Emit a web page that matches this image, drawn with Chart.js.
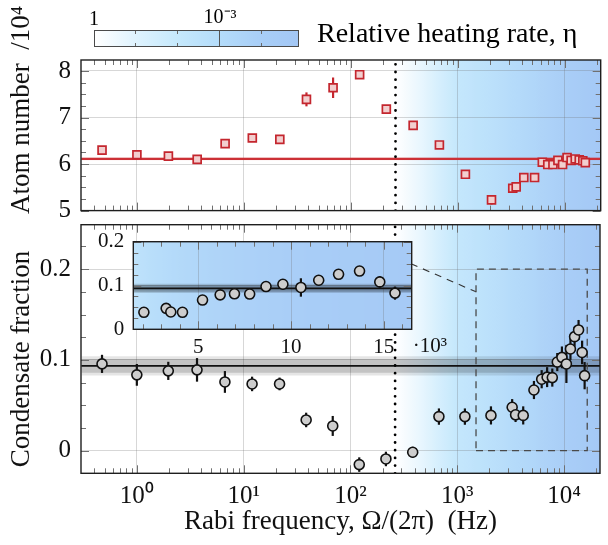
<!DOCTYPE html>
<html>
<head>
<meta charset="utf-8">
<title>Atom number and condensate fraction vs Rabi frequency</title>
<script src="https://cdn.jsdelivr.net/npm/chart.js@4.4.1/dist/chart.umd.min.js"></script>
<style>
  body { margin: 0; background: #fff; font-family: "Liberation Serif", serif; }
  #wrap { position: relative; width: 608px; height: 545px; overflow: hidden; }
  #wrap canvas { position: absolute; left: 0; top: 0; }
  #cbar { position: absolute; left: 94px; top: 30px; width: 205px; height: 17px; box-sizing: border-box;
          border: 1px solid #4a4a4a;
          background: linear-gradient(to right, #ffffff 0%, #dff3fe 20%, #c6e9fc 40%, #b4dcfa 61%, #a9cff7 80%, #a3c7f5 100%); }
  .tk { position: absolute; width: 1px; background: #6a6a6a; }
  .lbl { position: absolute; font-size: 20px; line-height: 1; transform: translateX(-50%); white-space: nowrap; }
  #cbTitle { position: absolute; left: 317px; top: 19px; font-size: 28px; line-height: 1; white-space: nowrap; }
</style>
</head>
<body>
<div id="wrap">
  <canvas id="atomChart" width="608" height="545"></canvas>
  <canvas id="fracChart" width="608" height="545"></canvas>
  <canvas id="insetChart" width="608" height="545"></canvas>
  <div id="cbar">
    <div class="tk" style="left:40px;top:0;height:3px"></div>
    <div class="tk" style="left:40px;bottom:0;height:3px"></div>
    <div class="tk" style="left:82px;top:0;height:3px"></div>
    <div class="tk" style="left:82px;bottom:0;height:3px"></div>
    <div class="tk" style="left:124px;top:0;height:15px;background:#555"></div>
    <div class="tk" style="left:166px;top:0;height:3px"></div>
    <div class="tk" style="left:166px;bottom:0;height:3px"></div>
  </div>
  <div class="lbl" style="left:94px;top:8px">1</div>
  <div class="lbl" style="left:220px;top:6px">10⁻³</div>
  <div id="cbTitle">Relative heating rate, η</div>
</div>

<script>
// ---- data ----
const freqHz = [0.472, 1.0, 1.97, 3.66, 6.68, 12.0, 21.7, 38.5, 68.3, 121, 215, 383, 674, 1180,
  2070, 3270, 3520, 4150, 5230, 6180, 6950, 7770, 8650, 9560, 10530, 11490, 12560, 13690, 14780, 15600];
const atomNumber = [6.30, 6.20, 6.17, 6.10, 6.44, 6.56, 6.53, 7.39, 7.64, 7.92, 7.18, 6.83, 6.41, 5.78,
  5.23, 5.48, 5.51, 5.71, 5.71, 6.04, 5.99, 5.99, 6.08, 5.99, 6.14, 6.08, 6.11, 6.09, 6.07, 6.03];
const atomErr = [0.04, 0.04, 0.04, 0.04, 0.04, 0.04, 0.04, 0.15, 0.22, 0.04, 0.08, 0.04, 0.04, 0.05,
  0.10, 0.09, 0.05, 0.04, 0.04, 0.04, 0.04, 0.04, 0.04, 0.04, 0.04, 0.04, 0.04, 0.04, 0.04, 0.05];
const condFrac = [0.0956, 0.0835, 0.0879, 0.0890, 0.0757, 0.0735, 0.0735, 0.0338, 0.0272, -0.0154, -0.0092, -0.0018, 0.0375, 0.0375,
  0.0388, 0.0478, 0.0395, 0.0388, 0.0668, 0.0787, 0.0810, 0.0805, 0.0976, 0.1028, 0.0955, 0.1120, 0.1256, 0.1330, 0.1082, 0.0826];
const condErr = [0.010, 0.012, 0.010, 0.013, 0.012, 0.008, 0.007, 0.008, 0.011, 0.008, 0.008, 0.006, 0.009, 0.009,
  0.010, 0.009, 0.008, 0.010, 0.010, 0.010, 0.011, 0.010, 0.010, 0.012, 0.021, 0.012, 0.011, 0.011, 0.013, 0.015];

const meanAtom = 6.11, atomBand = 0.03;
const meanFrac = 0.0934, fracBandOuter = 0.0105, fracBandInner = 0.0075;
const cutoffHz = 262;

const xRange = [0.302, 21730];
const atomRange = [5, 8.236];
const fracRange = [-0.025, 0.249];
const insetKHz = [1.5, 16.5];
const insetFrac = [0, 0.2];
const insetTickKHz = [5, 10, 15];
const connectorHz = [369, 1500];
const connectorFrac = [0.206, 0.175];

// heating-rate colour map (log10 of frequency -> colour)
const heatLogF = [2.42, 2.6, 2.8, 3.0, 3.5, 4.0, 4.4];
const heatColor = ['#ffffff', '#eef8fe', '#d8f0fd', '#c4e7fc', '#b6dcfa', '#a9cef7', '#a3c7f5'];

const FONT = '"Liberation Serif", serif';
const red = '#c4262e';
const gridCol = 'rgba(110,110,110,0.28)';
const sup = { '0': '⁰', '1': '¹', '2': '²', '3': '³', '4': '⁴', '-': '⁻' };

// ---- helpers ----
const pts = (xs, ys) => xs.map((x, i) => ({ x, y: ys[i] }));
const hline = (xr, y) => [{ x: xr[0], y }, { x: xr[1], y }];
const vline = (x, yr) => [{ x, y: yr[0] }, { x, y: yr[1] }];
const isDecade = v => { const e = Math.log10(v); return Math.abs(e - Math.round(e)) < 1e-6; };

function hexRgb(h) { return [1, 3, 5].map(i => parseInt(h.substr(i, 2), 16)); }
const heatRgb = heatColor.map(hexRgb);
function heatColour(f) {
  const l = Math.log10(f);
  if (l <= heatLogF[0]) return heatColor[0];
  for (let i = 1; i < heatLogF.length; i++) {
    if (l <= heatLogF[i]) {
      const t = (l - heatLogF[i - 1]) / (heatLogF[i] - heatLogF[i - 1]);
      const c = heatRgb[i - 1].map((a, k) => Math.round(a + (heatRgb[i][k] - a) * t));
      return `rgb(${c.join(',')})`;
    }
  }
  return heatColor[heatColor.length - 1];
}

function logTicks(r) {
  const out = [];
  for (let d = -1; d <= 5; d++) for (let m = 1; m < 10; m++) {
    const v = m * Math.pow(10, d);
    if (v >= r[0] && v <= r[1]) out.push({ v, len: m === 1 ? 8 : 5 });
  }
  return out;
}
function linTicks(r, major, minor) {
  const out = [];
  for (let k = Math.ceil(r[0] / minor - 1e-9); k * minor <= r[1] + 1e-9; k++) {
    const v = k * minor, q = v / major;
    out.push({ v, len: Math.abs(q - Math.round(q)) < 1e-6 ? 8 : 5 });
  }
  return out;
}

// ---- plugins ----
function makeHeatBg(toHz) {
  return {
    id: 'heatBg',
    beforeDraw(chart) {
      const { ctx, chartArea: a, scales: { x } } = chart;
      const g = ctx.createLinearGradient(a.left, 0, a.right, 0);
      for (let i = 0; i <= 120; i++) {
        g.addColorStop(i / 120, heatColour(toHz(x.getValueForPixel(a.left + a.width * i / 120))));
      }
      ctx.save();
      ctx.fillStyle = g;
      ctx.fillRect(a.left, a.top, a.width, a.height);
      ctx.restore();
    }
  };
}

const errorBars = {
  id: 'errorBars',
  beforeDatasetDraw(chart, args) {
    const ds = chart.data.datasets[args.index];
    if (!ds.errors) return;
    const { ctx, scales: { x, y } } = chart;
    ctx.save();
    ctx.strokeStyle = ds.errorColor;
    ctx.lineWidth = ds.errorWidth;
    ds.data.forEach((p, i) => {
      const px = x.getPixelForValue(p.x);
      ctx.beginPath();
      ctx.moveTo(px, y.getPixelForValue(p.y - ds.errors[i]));
      ctx.lineTo(px, y.getPixelForValue(p.y + ds.errors[i]));
      ctx.stroke();
    });
    ctx.restore();
  }
};

function makeFrame(xt, yt) {
  return {
    id: 'frame',
    afterDraw(chart) {
      const { ctx, chartArea: a, scales: { x, y } } = chart;
      const seg = (x1, y1, x2, y2) => { ctx.beginPath(); ctx.moveTo(x1, y1); ctx.lineTo(x2, y2); ctx.stroke(); };
      ctx.save();
      ctx.strokeStyle = '#707070';
      ctx.lineWidth = 1;
      xt.forEach(t => {
        const p = Math.round(x.getPixelForValue(t.v)) + 0.5;
        seg(p, a.top, p, a.top + t.len);
        seg(p, a.bottom, p, a.bottom - t.len);
      });
      yt.forEach(t => {
        const p = Math.round(y.getPixelForValue(t.v)) + 0.5;
        seg(a.left, p, a.left + t.len, p);
        seg(a.right, p, a.right - t.len, p);
      });
      ctx.strokeStyle = '#1e1e1e';
      ctx.lineWidth = 1.4;
      ctx.strokeRect(a.left, a.top, a.width, a.height);
      ctx.restore();
    }
  };
}

function makeText(items) {
  return {
    id: 'extraText',
    afterDraw(chart) {
      const { ctx } = chart;
      items.forEach(t => {
        ctx.save();
        ctx.font = t.font;
        ctx.fillStyle = '#111';
        ctx.textAlign = t.align || 'center';
        ctx.textBaseline = 'middle';
        const px = typeof t.x === 'function' ? t.x(chart) : t.x;
        const py = typeof t.y === 'function' ? t.y(chart) : t.y;
        ctx.translate(px, py);
        if (t.rotate) ctx.rotate(-Math.PI / 2);
        ctx.fillText(t.text, 0, 0);
        ctx.restore();
      });
    }
  };
}

function baseOptions(pad) {
  return {
    responsive: false,
    animation: false,
    events: [],
    layout: { padding: pad },
    plugins: { legend: { display: false }, tooltip: { enabled: false } }
  };
}

function logXAxis(showLabels, height) {
  return {
    type: 'logarithmic', min: xRange[0], max: xRange[1],
    afterFit: s => { s.height = height; },
    border: { display: false },
    grid: { drawTicks: false, color: c => (c.tick && isDecade(c.tick.value)) ? gridCol : 'rgba(0,0,0,0)' },
    ticks: {
      display: showLabels, autoSkip: false, maxRotation: 0, padding: 8, color: '#111',
      font: { family: FONT, size: 25 },
      callback: v => isDecade(v) ? '10' + String(Math.round(Math.log10(v))).split('').map(c => sup[c]).join('') : ''
    }
  };
}

function linYAxis(r, step, width, fontSize, pad) {
  return {
    type: 'linear', min: r[0], max: r[1],
    afterFit: s => { s.width = width; },
    border: { display: false },
    grid: { drawTicks: false, color: gridCol },
    ticks: {
      stepSize: step, includeBounds: false, padding: pad, color: '#111',
      font: { family: FONT, size: fontSize },
      callback: v => String(+v.toFixed(2))
    }
  };
}

// ---- top panel: atom number ----
new Chart(document.getElementById('atomChart'), {
  type: 'scatter',
  data: {
    datasets: [
      { data: pts(freqHz, atomNumber), errors: atomErr, errorColor: red, errorWidth: 2.2,
        pointStyle: 'rect', pointRadius: 5.6, backgroundColor: '#f2cfcf', borderColor: red, borderWidth: 1.7 },
      { type: 'line', data: vline(cutoffHz, atomRange), borderColor: '#000', borderWidth: 2.8,
        borderDash: [0, 7.7], borderCapStyle: 'round', pointRadius: 0 },
      { type: 'line', data: hline(xRange, meanAtom), borderColor: '#cc3036', borderWidth: 2.2, pointRadius: 0 },
      { type: 'line', data: hline(xRange, meanAtom + atomBand), borderWidth: 0, pointRadius: 0,
        fill: 4, backgroundColor: 'rgba(210,60,60,0.16)' },
      { type: 'line', data: hline(xRange, meanAtom - atomBand), borderWidth: 0, pointRadius: 0 }
    ]
  },
  options: Object.assign(baseOptions({ left: 0, right: 1, top: 60, bottom: 334.4 }), {
    scales: { x: logXAxis(false, 0), y: linYAxis(atomRange, 1, 81, 25, 10) }
  }),
  plugins: [makeHeatBg(v => v), errorBars, makeFrame(logTicks(xRange), linTicks(atomRange, 1, 0.25)),
    makeText([{ text: 'Atom number  /10⁴', x: 22, y: 110, rotate: true, font: '27px ' + FONT }])]
});

// ---- bottom panel: condensate fraction ----
const zoomBox = [
  { x: insetKHz[0] * 1000, y: insetFrac[0] }, { x: insetKHz[1] * 1000, y: insetFrac[0] },
  { x: insetKHz[1] * 1000, y: insetFrac[1] }, { x: insetKHz[0] * 1000, y: insetFrac[1] },
  { x: insetKHz[0] * 1000, y: insetFrac[0] }
];

const fracX = logXAxis(true, 71.7);
fracX.title = { display: true, text: 'Rabi frequency, Ω/(2π)  (Hz)', color: '#111',
  font: { family: FONT, size: 27 }, padding: { top: 0, bottom: 7 } };

new Chart(document.getElementById('fracChart'), {
  type: 'scatter',
  data: {
    datasets: [
      { data: pts(freqHz, condFrac), errors: condErr, errorColor: '#111', errorWidth: 2.2,
        pointRadius: 5, backgroundColor: '#cdcdcd', borderColor: '#111', borderWidth: 1.6 },
      { type: 'line', data: zoomBox, borderColor: '#4a4a4a', borderWidth: 1.3, borderDash: [7, 5], pointRadius: 0 },
      { type: 'line', data: pts(connectorHz, connectorFrac), borderColor: '#333', borderWidth: 1.1,
        borderDash: [7, 6], pointRadius: 0 },
      { type: 'line', data: vline(cutoffHz, fracRange), borderColor: '#000', borderWidth: 2.8,
        borderDash: [0, 7.7], borderCapStyle: 'round', pointRadius: 0 },
      { type: 'line', data: hline(xRange, meanFrac), borderColor: '#111', borderWidth: 1.8, pointRadius: 0 },
      { type: 'line', data: hline(xRange, meanFrac + fracBandInner), borderWidth: 0, pointRadius: 0,
        fill: 6, backgroundColor: 'rgba(0,0,0,0.15)' },
      { type: 'line', data: hline(xRange, meanFrac - fracBandInner), borderWidth: 0, pointRadius: 0 },
      { type: 'line', data: hline(xRange, meanFrac + fracBandOuter), borderWidth: 0, pointRadius: 0,
        fill: 8, backgroundColor: 'rgba(0,0,0,0.1)' },
      { type: 'line', data: hline(xRange, meanFrac - fracBandOuter), borderWidth: 0, pointRadius: 0 }
    ]
  },
  options: Object.assign(baseOptions({ left: 0, right: 1, top: 224.7, bottom: 0 }), {
    scales: { x: fracX, y: linYAxis(fracRange, 0.1, 81, 25, 10) }
  }),
  plugins: [makeHeatBg(v => v), errorBars, makeFrame(logTicks(xRange), linTicks(fracRange, 0.1, 0.025)),
    makeText([{ text: 'Condensate fraction', x: 22, y: 359, rotate: true, font: '27px ' + FONT }])]
});

// ---- inset: linear zoom of the high-frequency points (kHz) ----
const insetIdx = freqHz.map((f, i) => i).filter(i => freqHz[i] >= insetKHz[0] * 1000);
const insetX = insetIdx.map(i => freqHz[i] / 1000);
const insetY = insetIdx.map(i => condFrac[i]);
const insetErr = insetIdx.map(i => condErr[i]);

new Chart(document.getElementById('insetChart'), {
  type: 'scatter',
  data: {
    datasets: [
      { data: pts(insetX, insetY), errors: insetErr, errorColor: '#111', errorWidth: 2.2,
        pointRadius: 5, backgroundColor: '#cdcdcd', borderColor: '#111', borderWidth: 1.6 },
      { type: 'line', data: hline(insetKHz, meanFrac), borderColor: '#111', borderWidth: 1.8, pointRadius: 0 },
      { type: 'line', data: hline(insetKHz, meanFrac + fracBandInner), borderWidth: 0, pointRadius: 0,
        fill: 3, backgroundColor: 'rgba(0,0,0,0.22)' },
      { type: 'line', data: hline(insetKHz, meanFrac - fracBandInner), borderWidth: 0, pointRadius: 0 },
      { type: 'line', data: hline(insetKHz, meanFrac + fracBandOuter), borderWidth: 0, pointRadius: 0,
        fill: 5, backgroundColor: 'rgba(0,0,0,0.14)' },
      { type: 'line', data: hline(insetKHz, meanFrac - fracBandOuter), borderWidth: 0, pointRadius: 0 }
    ]
  },
  options: Object.assign(baseOptions({ left: 83.3, right: 196.3, top: 241.7, bottom: 185.7 }), {
    scales: {
      x: {
        type: 'linear', min: insetKHz[0], max: insetKHz[1],
        afterFit: s => { s.height = 30; },
        afterBuildTicks: s => { s.ticks = insetTickKHz.map(v => ({ value: v })); },
        border: { display: false },
        grid: { drawTicks: false, color: gridCol },
        ticks: { padding: 6, color: '#111', font: { family: FONT, size: 21 }, callback: v => String(v) }
      },
      y: linYAxis(insetFrac, 0.1, 50, 21, 9)
    }
  }),
  plugins: [makeHeatBg(v => v * 1000), errorBars, makeFrame(linTicks(insetKHz, 5, 1), linTicks(insetFrac, 0.1, 0.025)),
    makeText([{ text: '·10³', align: 'left', x: c => c.chartArea.right + 1, y: c => c.chartArea.bottom + 17, font: '21px ' + FONT }])]
});
</script>
</body>
</html>
